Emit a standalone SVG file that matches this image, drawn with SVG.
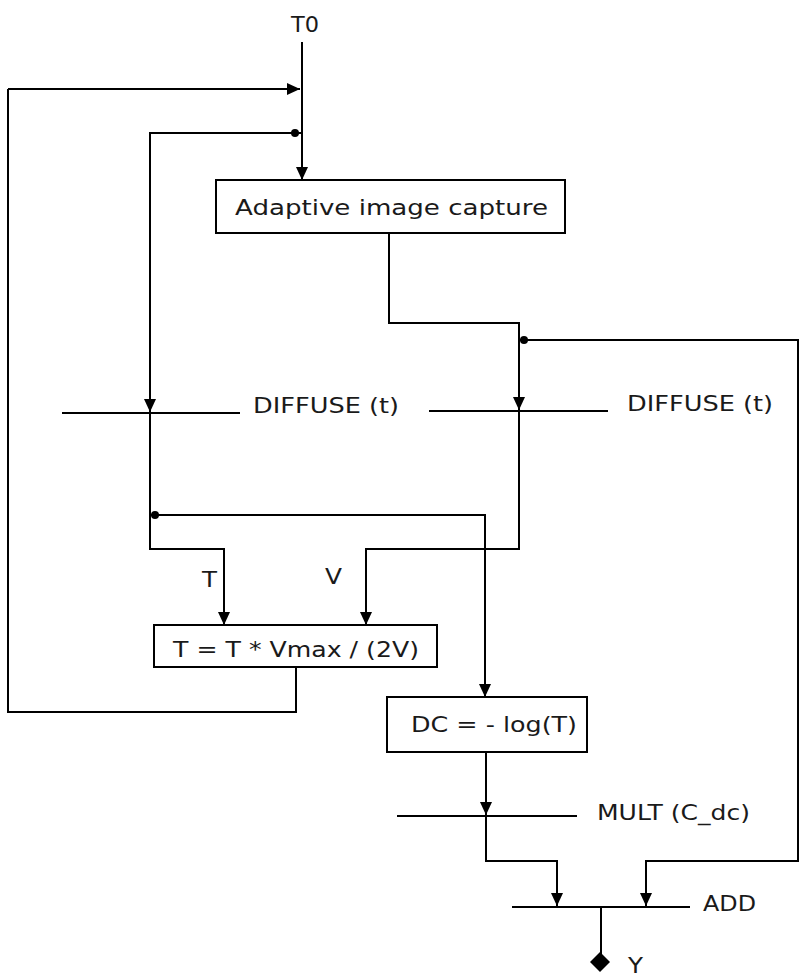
<svg xmlns="http://www.w3.org/2000/svg" width="799" height="978" viewBox="0 0 799 978">
<style>
.ln{fill:none;stroke:#000;stroke-width:2}
.bx{fill:#fff;stroke:#000;stroke-width:2}
.t{font-family:"DejaVu Sans",Verdana,sans-serif;font-size:22px;fill:#1a1a1a}
.ar{fill:#000}
</style>
<defs>
<path id="ad" d="M-6,-13 L6,-13 L0,0 Z"/>
</defs>
<rect width="799" height="978" fill="#fff"/>
<g id="connectors">
<path class="ln" d="M302,42 V180"/>
<path class="ln" d="M8,89 H300"/>
<path class="ln" d="M8,89 V712 H296 V667"/>
<path class="ln" d="M302,133 H150 V549 H224 V625"/>
<path class="ln" d="M389,233 V323 H519 V549 H366 V625"/>
<path class="ln" d="M519,340 H798 V861 H646 V907"/>
<path class="ln" d="M150,515 H485 V697"/>
<path class="ln" d="M486,752 V861 H557 V907"/>
<path class="ln" d="M601,907 V955"/>
<use href="#ad" class="ar" x="302" y="180"/>
<use href="#ad" class="ar" transform="translate(300,89) rotate(-90)"/>
<use href="#ad" class="ar" x="150" y="412"/>
<use href="#ad" class="ar" x="519" y="410"/>
<use href="#ad" class="ar" x="224" y="625"/>
<use href="#ad" class="ar" x="366" y="625"/>
<use href="#ad" class="ar" x="485" y="697"/>
<use href="#ad" class="ar" x="486" y="815"/>
<use href="#ad" class="ar" x="557" y="906"/>
<use href="#ad" class="ar" x="646" y="906"/>
<circle class="ar" cx="295" cy="133" r="4"/>
<circle class="ar" cx="524" cy="340" r="4"/>
<circle class="ar" cx="155" cy="515" r="4"/>
<path class="ar" d="M600,952 L610,962 L600,972 L590,962 Z"/>
</g>
<g id="T0"><text class="t" x="291" y="32" textLength="28" lengthAdjust="spacingAndGlyphs">T0</text></g>
<g id="capture">
<rect class="bx" x="216" y="180" width="349" height="53"/>
<text class="t" x="235" y="215" textLength="313" lengthAdjust="spacingAndGlyphs">Adaptive image capture</text>
</g>
<g id="diffuse1">
<path class="ln" d="M62,413 H240"/>
<text class="t" x="253" y="413" textLength="146" lengthAdjust="spacingAndGlyphs">DIFFUSE (t)</text>
</g>
<g id="diffuse2">
<path class="ln" d="M429,411 H608"/>
<text class="t" x="627" y="411" textLength="146" lengthAdjust="spacingAndGlyphs">DIFFUSE (t)</text>
</g>
<g id="labelT"><text class="t" x="202" y="587" textLength="15" lengthAdjust="spacingAndGlyphs">T</text></g>
<g id="labelV"><text class="t" x="325" y="584" textLength="17" lengthAdjust="spacingAndGlyphs">V</text></g>
<g id="update">
<rect class="bx" x="154" y="625" width="283" height="42"/>
<text class="t" x="173" y="657" textLength="246" lengthAdjust="spacingAndGlyphs">T = T * Vmax / (2V)</text>
</g>
<g id="dc">
<rect class="bx" x="387" y="697" width="200" height="55"/>
<text class="t" x="411" y="732" textLength="166" lengthAdjust="spacingAndGlyphs">DC = - log(T)</text>
</g>
<g id="mult">
<path class="ln" d="M397,816 H577"/>
<text class="t" x="597" y="820" textLength="153" lengthAdjust="spacingAndGlyphs">MULT (C_dc)</text>
</g>
<g id="add">
<path class="ln" d="M512,907 H690"/>
<text class="t" x="703" y="911" textLength="53" lengthAdjust="spacingAndGlyphs">ADD</text>
</g>
<g id="Y"><text class="t" x="628" y="973" textLength="15" lengthAdjust="spacingAndGlyphs">Y</text></g>
</svg>
